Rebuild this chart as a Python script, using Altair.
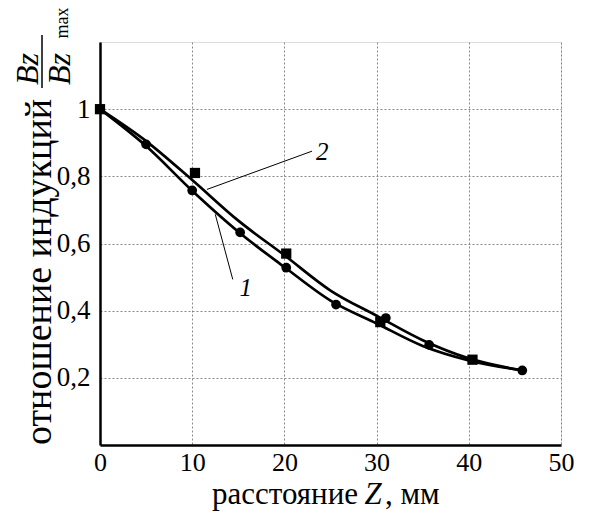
import altair as alt
import pandas as pd

# ---- data ----
curve1_z = [0, 5, 10, 15, 20, 25, 30, 35, 40, 45.8]
curve1_b = [1.0, 0.89, 0.757, 0.635, 0.53, 0.43, 0.362, 0.295, 0.252, 0.222]
curve2_z = [0, 5, 10, 15, 20, 25, 30, 35, 40, 45.8]
curve2_b = [1.0, 0.905, 0.789, 0.668, 0.565, 0.46, 0.385, 0.312, 0.258, 0.222]

circle_z = [5, 10, 15.2, 20.2, 25.6, 31.0, 35.7, 45.8]
circle_b = [0.895, 0.758, 0.633, 0.528, 0.418, 0.378, 0.298, 0.222]
square_z = [0, 10.3, 20.2, 30.4, 40.4]
square_b = [1.0, 0.81, 0.57, 0.366, 0.254]

x_ticks = [0, 10, 20, 30, 40, 50]
y_ticks = [0.2, 0.4, 0.6, 0.8, 1.0]

curve_labels = ["1", "2"]
label_z = [15.8, 24.1]
label_b = [0.467, 0.873]
leader_z = [14.4, 23.0]
leader_b = [0.493, 0.875]
leader_z2 = [12.5, 11.6]
leader_b2 = [0.687, 0.761]

x_title = ["расстояние", "Z", ", мм"]
y_title = ["отношение индукций"]
frac_num = ["Bz"]
frac_den = ["Bz"]
frac_sub = ["max"]

SERIF = "Liberation Serif"
W, H = 461, 403

curves = pd.DataFrame({
    "z": curve1_z + curve2_z,
    "b": curve1_b + curve2_b,
    "s": ["1"] * len(curve1_z) + ["2"] * len(curve2_z),
})
circles = pd.DataFrame({"z": circle_z, "b": circle_b})
squares = pd.DataFrame({"z": square_z, "b": square_b})
labels = pd.DataFrame({"t": curve_labels, "z": label_z, "b": label_b})
leaders = pd.DataFrame({"z": leader_z, "b": leader_b, "z2": leader_z2, "b2": leader_b2})

xs = alt.Scale(domain=[0, 50], nice=False, zero=False)
ys = alt.Scale(domain=[0, 1.2], nice=False, zero=False)

xaxis = alt.Axis(values=x_ticks, title="", grid=True, ticks=False,
                 labelFont=SERIF, labelFontSize=26, labelColor="black",
                 labelPadding=4, domainColor="black", domainWidth=2.5,
                 gridColor="#888", gridDash=[2, 2], gridWidth=1, labelFlush=False)
yaxis = alt.Axis(values=y_ticks, title="", grid=True, ticks=False,
                 labelFont=SERIF, labelFontSize=27, labelColor="black",
                 labelPadding=10, domainColor="black", domainWidth=2.5,
                 gridColor="#888", gridDash=[2, 2], gridWidth=1,
                 labelExpr="datum.value == 1 ? '1' : replace(format(datum.value, '.1f'), '.', ',')")

lines = alt.Chart(curves).mark_line(color="black", strokeWidth=2.7, interpolate="monotone").encode(
    x=alt.X("z:Q", scale=xs, axis=xaxis),
    y=alt.Y("b:Q", scale=ys, axis=yaxis),
    detail="s:N",
)
circ = alt.Chart(circles).mark_point(shape="circle", filled=True, color="black", size=95, opacity=1, clip=False).encode(
    x="z:Q", y="b:Q")
sq = alt.Chart(squares).mark_point(shape="square", filled=True, color="black", size=105, opacity=1, clip=False).encode(
    x="z:Q", y="b:Q")
lead = alt.Chart(leaders).mark_rule(color="black", strokeWidth=1).encode(
    x="z:Q", y="b:Q", x2="z2:Q", y2="b2:Q")
lab = alt.Chart(labels).mark_text(font=SERIF, fontSize=25, fontStyle="italic", color="black",
                                  align="center", baseline="middle").encode(
    x="z:Q", y="b:Q", text="t:N")

# axis titles as text marks
TS = 31
TY = 462
xt1 = alt.Chart(pd.DataFrame({"t": [x_title[0]]})).mark_text(
    font=SERIF, fontSize=TS, color="black", align="right", baseline="alphabetic").encode(
    x=alt.value(258), y=alt.value(TY), text="t:N")
xt2 = alt.Chart(pd.DataFrame({"t": [x_title[1]]})).mark_text(
    font=SERIF, fontSize=TS, fontStyle="italic", color="black", align="center", baseline="alphabetic").encode(
    x=alt.value(273), y=alt.value(TY), text="t:N")
xt3 = alt.Chart(pd.DataFrame({"t": [x_title[2]]})).mark_text(
    font=SERIF, fontSize=TS, color="black", align="left", baseline="alphabetic").encode(
    x=alt.value(285), y=alt.value(TY), text="t:N")

yt = alt.Chart(pd.DataFrame({"t": y_title})).mark_text(
    font=SERIF, fontSize=38, color="black", align="left", baseline="alphabetic", angle=270).encode(
    x=alt.value(-49), y=alt.value(403), text="t:N")
fn = alt.Chart(pd.DataFrame({"t": frac_num})).mark_text(
    font=SERIF, fontSize=32, fontStyle="italic", color="black", align="center", baseline="alphabetic", angle=270).encode(
    x=alt.value(-62), y=alt.value(27), text="t:N")
fbar = alt.Chart(pd.DataFrame({"t": frac_num})).mark_rule(color="black", strokeWidth=1.5).encode(
    x=alt.value(-58), y=alt.value(-7), y2=alt.value(46))
fd = alt.Chart(pd.DataFrame({"t": frac_den})).mark_text(
    font=SERIF, fontSize=32, fontStyle="italic", color="black", align="center", baseline="alphabetic", angle=270).encode(
    x=alt.value(-30), y=alt.value(27), text="t:N")
fs = alt.Chart(pd.DataFrame({"t": frac_sub})).mark_text(
    font=SERIF, fontSize=18, color="black", align="center", baseline="alphabetic", angle=270).encode(
    x=alt.value(-32), y=alt.value(-19), text="t:N")

chart = alt.layer(lines, lead, circ, sq, lab, xt1, xt2, xt3, yt, fn, fbar, fd, fs).properties(
    width=W, height=H,
    autosize=alt.AutoSizeParams(type="none"),
    padding={"left": 92, "top": 34, "right": 20, "bottom": 66},
).configure_view(stroke="#888", strokeDash=[2, 2], strokeWidth=1
).configure(background="white")

chart.save("out.html", embed_options={"renderer": "svg", "actions": False})
